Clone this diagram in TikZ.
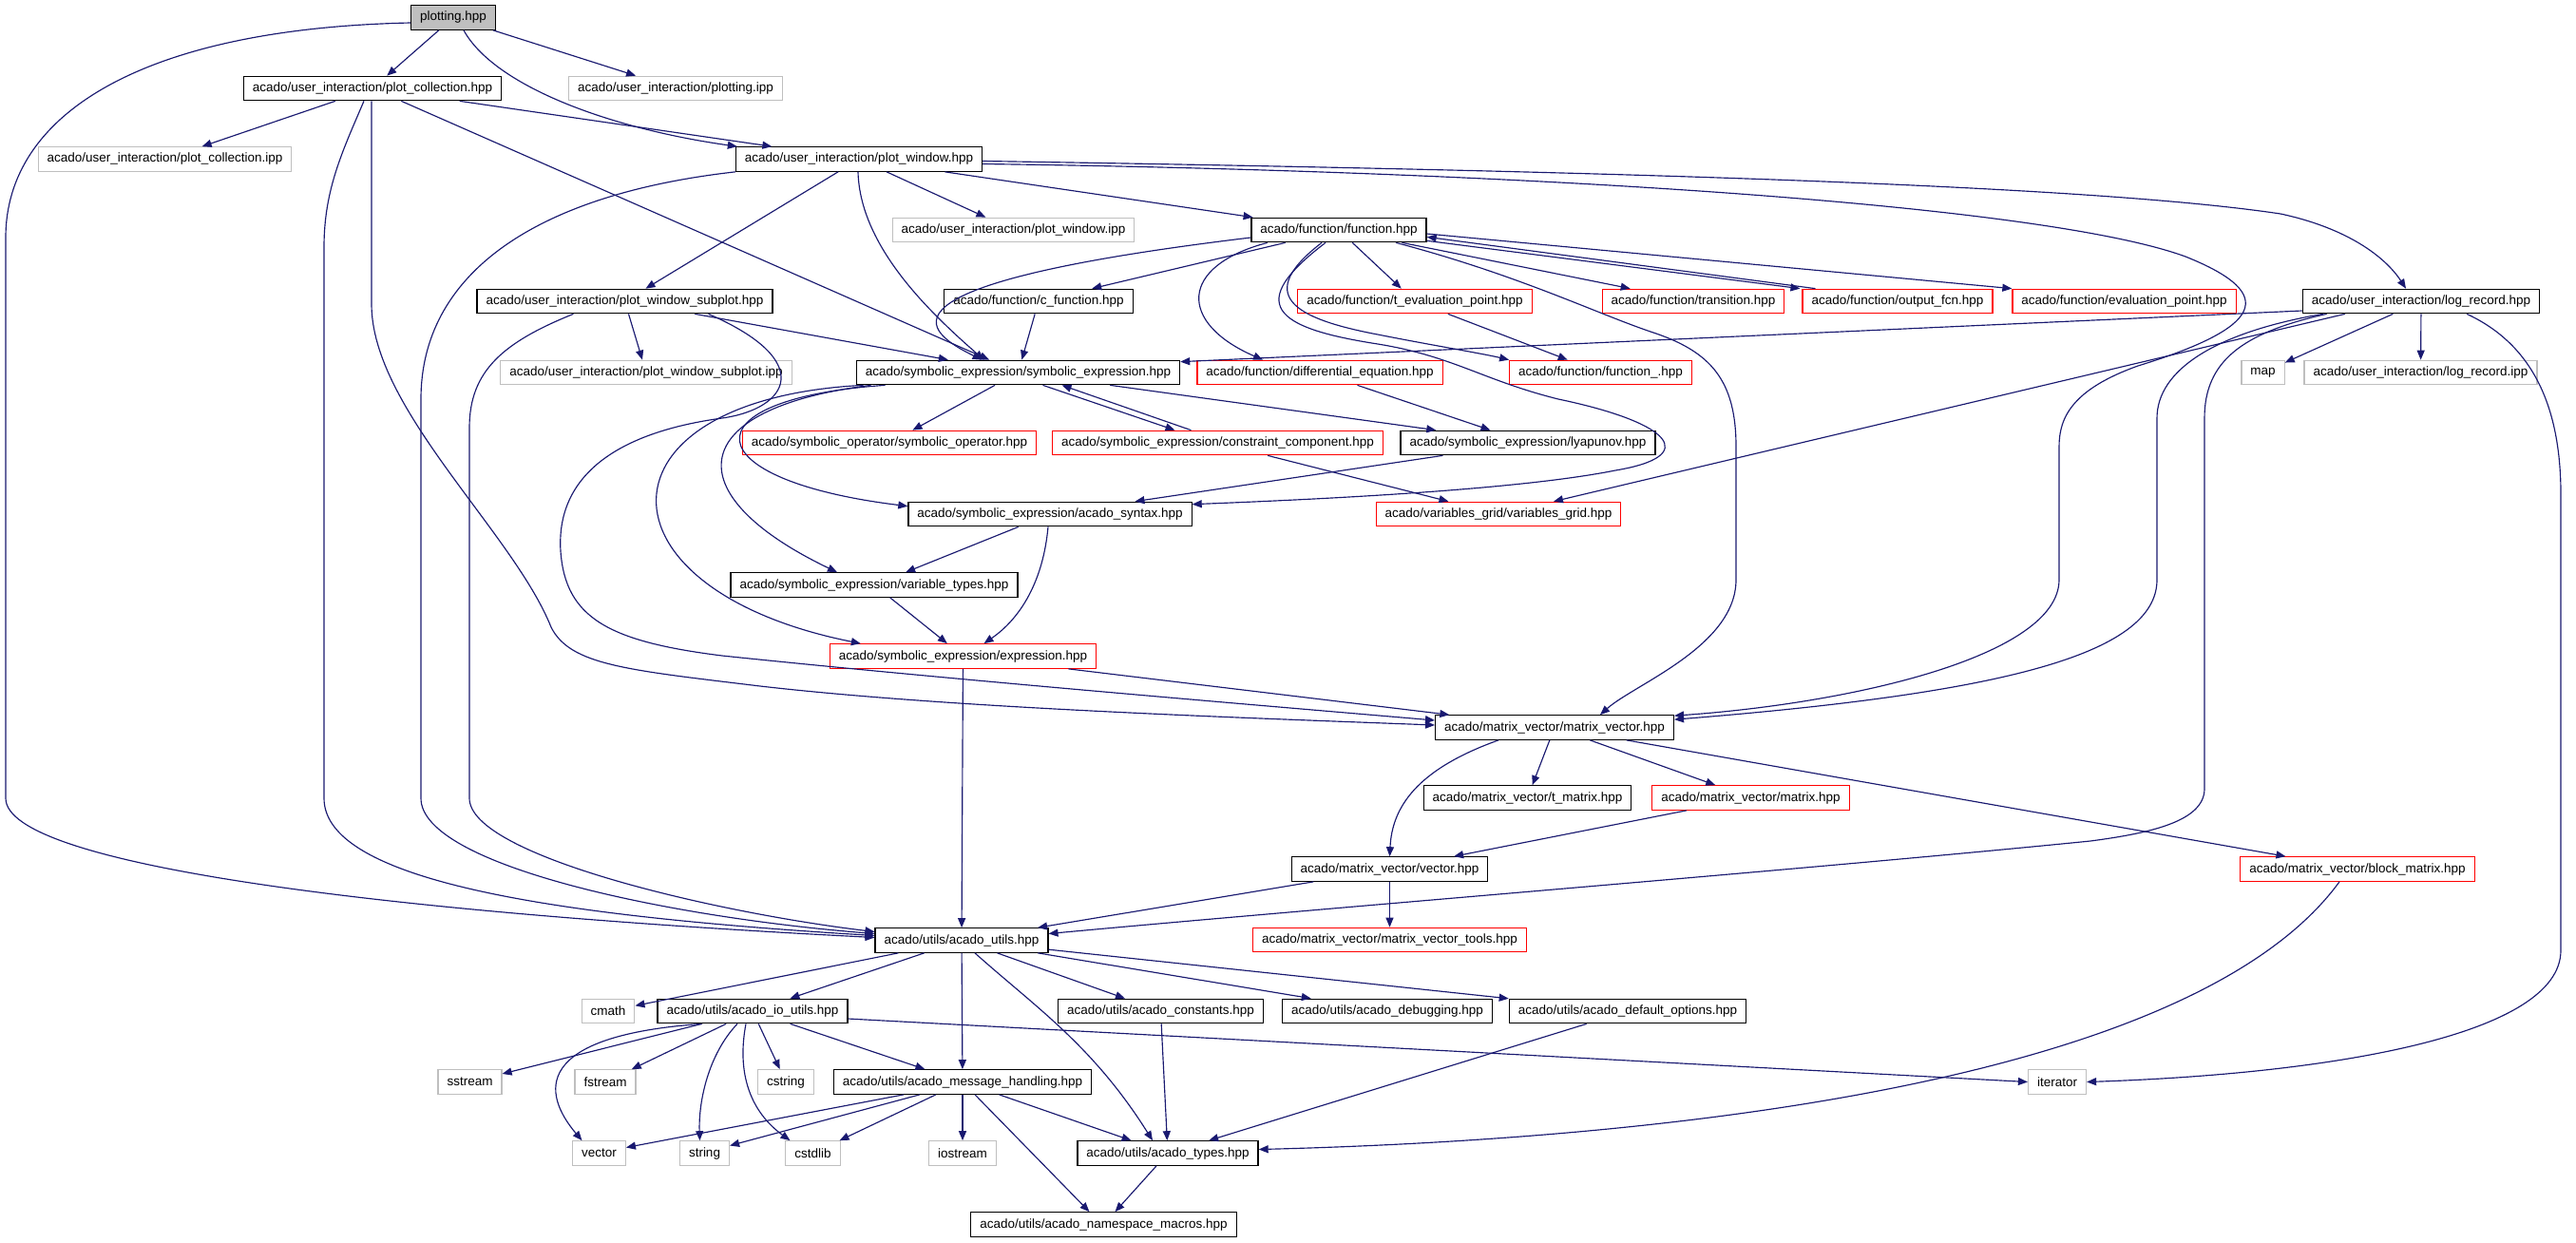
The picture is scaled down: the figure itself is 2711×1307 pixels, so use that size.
\documentclass[tikz,border=0pt]{standalone}
\usepackage{fontspec}
\setmainfont{Liberation Sans}
\usetikzlibrary{arrows.meta}
\definecolor{edgeblue}{HTML}{191970}
\definecolor{sysgrey}{HTML}{BFBFBF}

\begin{document}
\begin{tikzpicture}[
    x=1pt, y=-1pt,
    header/.style={rectangle, minimum height=25.5pt, inner xsep=9.5pt, inner ysep=0pt,
                   text centered, draw=black, line width=1.2pt, fill=white,
                   font=\fontsize{13.5}{16}\selectfont},
    redheader/.style={header, draw=red},
    sysheader/.style={header, draw=sysgrey},
    roothead/.style={header, fill=sysgrey},
    link/.style={draw=edgeblue, line width=1.15pt, -{Triangle[length=10pt, width=8pt]}}
]

    \path [use as bounding box, fill=white] (0,0) rectangle (2711,1307);

    % Top: plotting and user interaction
    \node (plotting) [roothead] at (477,18.5) {plotting.hpp};
    \node (plotcoll) [header] at (392,93) {acado/user\_interaction/plot\_collection.hpp};
    \node (plottingipp) [sysheader] at (711,93) {acado/user\_interaction/plotting.ipp};
    \node (plotcollipp) [sysheader] at (173.5,167.5) {acado/user\_interaction/plot\_collection.ipp};
    \node (plotwin) [header] at (904,167.5) {acado/user\_interaction/plot\_window.hpp};
    \node (plotwinipp) [sysheader] at (1066.5,242) {acado/user\_interaction/plot\_window.ipp};
    \node (function) [header] at (1409,242) {acado/function/function.hpp};
    \node (subplot) [header] at (657.5,317) {acado/user\_interaction/plot\_window\_subplot.hpp};
    \node (subplotipp) [sysheader] at (680,392) {acado/user\_interaction/plot\_window\_subplot.ipp};
    \node (logrec) [header] at (2548,317) {acado/user\_interaction/log\_record.hpp};
    \node (map) [sysheader] at (2381.5,392) {map};
    \node (logrecipp) [sysheader] at (2547.5,392) {acado/user\_interaction/log\_record.ipp};

    % Function headers
    \node (cfunc) [header] at (1093,317) {acado/function/c\_function.hpp};
    \node (tevalpt) [redheader] at (1489,317) {acado/function/t\_evaluation\_point.hpp};
    \node (transition) [redheader] at (1782,317) {acado/function/transition.hpp};
    \node (outputfcn) [redheader] at (1997,317) {acado/function/output\_fcn.hpp};
    \node (evalpt) [redheader] at (2235.5,317) {acado/function/evaluation\_point.hpp};
    \node (diffeq) [redheader] at (1389,392) {acado/function/differential\_equation.hpp};
    \node (funcus) [redheader] at (1684.5,392) {acado/function/function\_.hpp};

    % Symbolic expressions
    \node (symexpr) [header] at (1071.5,392) {acado/symbolic\_expression/symbolic\_expression.hpp};
    \node (symop) [redheader] at (936,466) {acado/symbolic\_operator/symbolic\_operator.hpp};
    \node (constr) [redheader] at (1281.5,466) {acado/symbolic\_expression/constraint\_component.hpp};
    \node (lyapunov) [header] at (1608,466) {acado/symbolic\_expression/lyapunov.hpp};
    \node (syntax) [header] at (1105,541) {acado/symbolic\_expression/acado\_syntax.hpp};
    \node (vargrid) [redheader] at (1577,541) {acado/variables\_grid/variables\_grid.hpp};
    \node (vartypes) [header] at (920,615.5) {acado/symbolic\_expression/variable\_types.hpp};
    \node (expression) [redheader] at (1013.5,690.5) {acado/symbolic\_expression/expression.hpp};

    % Matrices and vectors
    \node (matvec) [header] at (1636,765.5) {acado/matrix\_vector/matrix\_vector.hpp};
    \node (tmatrix) [header] at (1607.5,839.5) {acado/matrix\_vector/t\_matrix.hpp};
    \node (matrix) [redheader] at (1842.5,839.5) {acado/matrix\_vector/matrix.hpp};
    \node (vector) [header] at (1462.5,914.5) {acado/matrix\_vector/vector.hpp};
    \node (blockmat) [redheader] at (2481,914.5) {acado/matrix\_vector/block\_matrix.hpp};
    \node (mvtools) [redheader] at (1462.5,989) {acado/matrix\_vector/matrix\_vector\_tools.hpp};

    % Utils
    \node (utils) [header] at (1012,989.5) {acado/utils/acado\_utils.hpp};
    \node (cmath) [sysheader] at (640,1064) {cmath};
    \node (ioutils) [header] at (792,1064) {acado/utils/acado\_io\_utils.hpp};
    \node (constants) [header] at (1221.5,1064) {acado/utils/acado\_constants.hpp};
    \node (debugging) [header] at (1460,1064) {acado/utils/acado\_debugging.hpp};
    \node (defopts) [header] at (1713,1064) {acado/utils/acado\_default\_options.hpp};
    \node (sstream) [sysheader] at (494.5,1138.5) {sstream};
    \node (fstream) [sysheader] at (637,1138.5) {fstream};
    \node (cstring) [sysheader] at (827,1138.5) {cstring};
    \node (msghandling) [header] at (1013,1138.5) {acado/utils/acado\_message\_handling.hpp};
    \node (iterator) [sysheader] at (2165,1138.5) {iterator};
    \node (stdvector) [sysheader] at (630.5,1213.5) {vector};
    \node (stdstring) [sysheader] at (741.5,1213.5) {string};
    \node (cstdlib) [sysheader] at (855.5,1213.5) {cstdlib};
    \node (iostream) [sysheader] at (1013,1213.5) {iostream};
    \node (types) [header] at (1229,1213.5) {acado/utils/acado\_types.hpp};
    \node (nsmacros) [header] at (1161.5,1288.5) {acado/utils/acado\_namespace\_macros.hpp};

    % plotting.hpp
    \draw [link] (plotting) -- (plotcoll);
    \draw [link] (plotting) -- (plottingipp);
    \draw [link] ([xshift=11pt]plotting.south) .. controls (520,90) and (640,135) .. ([xshift=2pt]plotwin.north west);
    \draw [link] ([yshift=-5.5pt]plotting.west) .. controls (150,30) and (6,120) .. (6,250) -- (6,840)
        .. controls (6,910) and (400,960) .. ([yshift=3pt]utils.west);

    % plot_collection.hpp
    \draw [link] (plotcoll) -- (plotcollipp);
    \draw [link] (plotcoll) -- (plotwin);
    \draw [link] (plotcoll) -- (symexpr);
    \draw [link] ([xshift=-9pt]plotcoll.south) .. controls (360,160) and (341,200) .. (341,260) -- (341,840)
        .. controls (341,930) and (600,965) .. ([yshift=5pt]utils.west);
    \draw [link] ([xshift=-1pt]plotcoll.south) -- (391,320) .. controls (391,430) and (540,560) .. (580,660)
        .. controls (600,700) and (660,705) .. (800,722) .. controls (1000,745) and (1300,755) .. ([yshift=2.5pt]matvec.west);

    % plot_window.hpp
    \draw [link] (plotwin) -- (plotwinipp);
    \draw [link] (plotwin) -- (function);
    \draw [link] ([yshift=-2pt]plotwin.east) .. controls (1700,180) and (2200,195) .. (2400,225)
        .. controls (2470,240) and (2510,270) .. ([xshift=-16pt]logrec.north);
    \draw [link] ([yshift=-5pt]plotwin.east) .. controls (1600,180) and (2150,215) .. (2300,270)
        .. controls (2400,310) and (2380,345) .. (2250,385) .. controls (2180,410) and (2167,440) .. (2167,470)
        -- (2167,610) .. controls (2167,690) and (1950,740) .. ([yshift=-1pt]matvec.north east);
    \draw [link] (plotwin) -- (subplot);
    \draw [link] ([xshift=-1pt]plotwin.south) .. controls (905,260) and (980,330) .. ([xshift=-36pt]symexpr.north);
    \draw [link] (plotwin.south west) .. controls (560,205) and (443,290) .. (443,420) -- (443,840)
        .. controls (443,910) and (700,965) .. ([yshift=7pt]utils.west);

    % plot_window_subplot.hpp
    \draw [link] (subplot) -- (subplotipp);
    \draw [link] (subplot) -- (symexpr);
    \draw [link] ([xshift=-54pt]subplot.south) .. controls (530,360) and (494,390) .. (494,450) -- (494,840)
        .. controls (494,900) and (750,960) .. ([yshift=9pt]utils.west);
    \draw [link] ([xshift=88pt]subplot.south) .. controls (860,380) and (830,430) .. (760,440)
        .. controls (650,455) and (585,500) .. (590,580) .. controls (595,650) and (640,675) .. (760,690)
        .. controls (1000,715) and (1300,740) .. ([yshift=7.5pt]matvec.west);

    % function.hpp
    \draw [link] (function) -- (cfunc);
    \draw [link] ([yshift=-8pt]function.west) .. controls (900,300) and (975,350) .. ([xshift=-38pt]symexpr.north);
    \draw [link] ([xshift=-75pt]function.south) .. controls (1240,280) and (1240,340) .. ([xshift=-60pt]diffeq.north);
    \draw [link] ([xshift=-18pt]function.south) .. controls (1320,310) and (1360,335) .. (1450,352)
        .. controls (1500,362) and (1560,372) .. (funcus.north west);
    \draw [link] ([xshift=-14pt]function.south) .. controls (1310,320) and (1340,345) .. (1450,362)
        .. controls (1530,375) and (1560,400) .. (1640,420) .. controls (1760,445) and (1790,480) .. (1700,495)
        .. controls (1600,515) and (1400,525) .. ([yshift=-3pt]syntax.north east);
    \draw [link] ([xshift=60pt]function.south) .. controls (1600,290) and (1680,330) .. (1740,350)
        .. controls (1800,370) and (1827,400) .. (1827,470) -- (1827,610)
        .. controls (1827,680) and (1720,720) .. ([xshift=48pt]matvec.north);
    \draw [link] (function) -- (tevalpt);
    \draw [link] (function) -- (transition);
    \draw [link] ([yshift=2pt]function.south east) -- ([xshift=-2pt]outputfcn.north west);
    \draw [link] ([xshift=14pt]outputfcn.north west) -- ([yshift=6pt]function.south east);
    \draw [link] ([yshift=-4pt]function.east) -- (evalpt.north west);
    \draw [link] (cfunc) -- (symexpr);
    \draw [link] (tevalpt) -- (funcus);

    % log_record.hpp
    \draw [link] ([yshift=-10pt]logrec.west) -- ([yshift=-2pt]symexpr.north east);
    \draw [link] ([xshift=-80pt]logrec.south) -- ([xshift=58pt]vargrid.north);
    \draw [link] (logrec) -- (map);
    \draw [link] (logrec) -- (logrecipp);
    \draw [link] ([xshift=48pt]logrec.south) .. controls (2660,360) and (2695,420) .. (2695,520) -- (2695,1000)
        .. controls (2695,1090) and (2450,1130) .. (iterator.east);
    \draw [link] ([xshift=22pt]logrec.south west) .. controls (2330,350) and (2270,390) .. (2270,440) -- (2270,610)
        .. controls (2270,690) and (2100,730) .. ([yshift=-5pt]matvec.north east);
    \draw [link] ([xshift=26pt]logrec.south west) .. controls (2360,350) and (2320,380) .. (2320,440) -- (2320,830)
        .. controls (2320,865) and (2260,877) .. (2200,885) .. controls (1900,915) and (1400,955) .. ([yshift=7pt]utils.east);

    % symbolic_expression.hpp
    \draw [link] (symexpr) -- (symop);
    \draw [link] ([xshift=26pt]symexpr.south) -- ([xshift=-45pt]constr.north);
    \draw [link] ([xshift=-28pt]constr.north) -- ([xshift=46pt]symexpr.south);
    \draw [link] (symexpr) -- (lyapunov);
    \draw [link] ([xshift=-140pt]symexpr.south) .. controls (720,420) and (730,505) .. ([yshift=-5pt]syntax.north west);
    \draw [link] ([xshift=-155pt]symexpr.south) .. controls (720,430) and (710,520) .. ([xshift=-39pt]vartypes.north);
    \draw [link] ([xshift=-163pt]symexpr.south) .. controls (620,420) and (620,620) .. ([xshift=33pt]expression.north west);
    \draw [link] (diffeq) -- (lyapunov);
    \draw [link] (lyapunov) -- (syntax);
    \draw [link] (constr) -- (vargrid);
    \draw [link] (syntax) -- (vartypes);
    \draw [link] ([xshift=-2pt]syntax.south) .. controls (1098,610) and (1075,650) .. ([xshift=22pt]expression.north);
    \draw [link] (vartypes) -- (expression);
    \draw [link] (expression) -- (matvec);
    \draw [link] (expression) -- (utils);

    % matrix_vector.hpp
    \draw [link] ([xshift=-59pt]matvec.south) .. controls (1490,810) and (1465,850) .. (vector.north);
    \draw [link] (matvec) -- (tmatrix);
    \draw [link] (matvec) -- (matrix);
    \draw [link] (matvec) -- (blockmat);
    \draw [link] (matrix) -- (vector);
    \draw [link] (vector) -- (utils);
    \draw [link] (vector) -- (mvtools);
    \draw [link] ([xshift=-19pt]blockmat.south) .. controls (2300,1150) and (1700,1200) .. ([yshift=4pt]types.east);

    % acado_utils.hpp
    \draw [link] (utils) -- (cmath);
    \draw [link] (utils) -- (ioutils);
    \draw [link] (utils) -- (msghandling);
    \draw [link] ([xshift=14pt]utils.south) .. controls (1090,1060) and (1150,1100) .. ([xshift=-16pt]types.north);
    \draw [link] (utils) -- (constants);
    \draw [link] (utils) -- (debugging);
    \draw [link] (utils) -- (defopts);

    % acado_io_utils.hpp
    \draw [link] (ioutils) -- (sstream);
    \draw [link] (ioutils) -- (fstream);
    \draw [link] ([xshift=-53pt]ioutils.south) .. controls (560,1090) and (570,1150) .. ([xshift=-18pt]stdvector.north);
    \draw [link] ([xshift=-16pt]ioutils.south) .. controls (745,1110) and (735,1160) .. ([xshift=-5pt]stdstring.north);
    \draw [link] ([xshift=-7pt]ioutils.south) .. controls (775,1130) and (790,1170) .. ([xshift=-24pt]cstdlib.north);
    \draw [link] (ioutils) -- (cstring);
    \draw [link] (ioutils) -- (msghandling);
    \draw [link] ([yshift=-8pt]ioutils.east) -- (iterator.west);

    % acado_message_handling.hpp
    \draw [link] ([xshift=-62pt]msghandling.south) -- ([yshift=6pt]stdvector.east);
    \draw [link] ([xshift=-45pt]msghandling.south) -- ([yshift=8pt]stdstring.east);
    \draw [link] (msghandling) -- (cstdlib);
    \draw [link] (msghandling) -- (iostream);
    \draw [link] ([xshift=13pt]msghandling.south) -- ([xshift=-15pt]nsmacros.north);
    \draw [link] (msghandling) -- (types);

    % acado_types.hpp
    \draw [link] (constants) -- (types);
    \draw [link] (defopts) -- (types);
    \draw [link] (types) -- (nsmacros);

\end{tikzpicture}
\end{document}
